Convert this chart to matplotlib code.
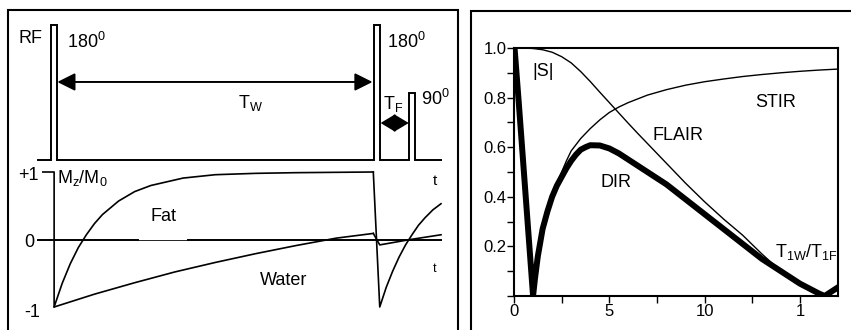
import numpy as np
import matplotlib.pyplot as plt
from matplotlib.patches import Rectangle

plt.rcParams['font.family'] = ['Liberation Sans', 'DejaVu Sans']
plt.rcParams['mathtext.fontset'] = 'custom'
plt.rcParams['mathtext.rm'] = 'Liberation Sans'
plt.rcParams['mathtext.it'] = 'Liberation Sans'

# ---- left panel: pulse sequence (time in ms) ----
pulse_t = [0, 2000, 2220]          # 180, 180, 90
pulse_amp = [1.0, 1.0, 0.5]
pulse_w = 37
t_start, t_end = -100, 2400
TW = 2000
TF = 220

# fat / water longitudinal magnetisation
fat_t1 = [0, 50, 100, 150, 200, 250, 300, 400, 500, 600, 800, 1000, 1250, 1500, 1980]
fat_m1 = [-1.0, -0.65, -0.36, -0.12, 0.07, 0.235, 0.37, 0.57, 0.71, 0.80, 0.91, 0.96, 0.98, 0.99, 1.0]
fat_t2 = [2020, 2060, 2100, 2140, 2180, 2220, 2260, 2300, 2350, 2400]
fat_m2 = [-1.0, -0.71, -0.47, -0.26, -0.08, 0.07, 0.21, 0.32, 0.44, 0.53]
water_t1 = [0, 250, 500, 750, 1000, 1250, 1500, 1750, 1980]
water_m1 = [-1.0, -0.81, -0.64, -0.48, -0.34, -0.21, -0.09, 0.02, 0.09]
water_t2 = [2020, 2210, 2400]
water_m2 = [-0.08, 0.0, 0.07]

# ---- right panel: |S| vs T1W/T1F ----
dir_x = [0, 0.25, 0.5, 0.75, 1.0, 1.1, 1.25, 1.5, 1.75, 2.0, 2.25, 2.5, 2.75, 3.0, 3.25, 3.5,
         3.75, 4.0, 4.5, 5, 5.5, 6, 6.5, 7, 8, 9, 10, 11, 12, 13, 14, 15, 16, 16.3, 17]
dir_y = [1.03, 0.78, 0.52, 0.26, 0.0, 0.07, 0.16, 0.27, 0.34, 0.40, 0.445, 0.48, 0.515, 0.545,
         0.57, 0.59, 0.60, 0.608, 0.607, 0.595, 0.575, 0.55, 0.525, 0.50, 0.45, 0.39, 0.33,
         0.27, 0.21, 0.15, 0.10, 0.05, 0.01, 0.0, 0.035]
stir_x = [2.0, 2.25, 2.5, 2.75, 3.0, 3.5, 4, 4.5, 5, 5.5, 6, 7, 8, 9, 10, 11, 12, 13, 14, 15, 16, 17]
stir_y = [0.40, 0.455, 0.50, 0.545, 0.585, 0.635, 0.675, 0.71, 0.74, 0.762, 0.78, 0.81, 0.832,
          0.85, 0.864, 0.875, 0.885, 0.893, 0.90, 0.906, 0.911, 0.915]
flair_x = [0, 0.5, 1, 1.5, 2, 2.5, 3, 3.5, 4, 4.5, 5, 5.5, 6, 6.5, 7, 7.5, 8, 9, 10, 11, 12, 13, 14]
flair_y = [1.0, 1.0, 0.998, 0.993, 0.983, 0.965, 0.94, 0.905, 0.865, 0.822, 0.78, 0.738, 0.696,
           0.655, 0.615, 0.575, 0.535, 0.455, 0.38, 0.31, 0.245, 0.17, 0.10]
xticks = [0, 5, 10, 15]
xtick_labels = ['0', '5', '10', '1']
yticks = [0, 0.2, 0.4, 0.6, 0.8, 1.0]
ytick_labels = ['', '0.2', '0.4', '0.6', '0.8', '1.0']

W, H = 851, 330
fig = plt.figure(figsize=(W / 100, H / 100), dpi=100)


def px_rect(x0, y0, x1, y1):
    return [x0 / W, 1 - y1 / H, (x1 - x0) / W, (y1 - y0) / H]


def label(s, x, y, ha='left', va='baseline', size=13):
    fig.text(x / W, 1 - y / H, s, ha=ha, va=va, fontsize=size)


# frames
fig.add_artist(Rectangle((8 / W, -0.1), 450 / W, 1.1 - 10.5 / H, transform=fig.transFigure,
                         fill=False, lw=1.5, ec='black'))
fig.add_artist(Rectangle((471 / W, -0.1), 450 / W, 1.1 - 11 / H, transform=fig.transFigure,
                         fill=False, lw=1.5, ec='black'))

# RF line
ax_rf = fig.add_axes(px_rect(38, 25, 441, 160))
ax_rf.set_xlim(t_start, t_end)
ax_rf.set_ylim(0, 1)
ax_rf.axis('off')
rx, ry = [t_start], [0]
for t, a in zip(pulse_t, pulse_amp):
    rx += [t - pulse_w / 2, t - pulse_w / 2, t + pulse_w / 2, t + pulse_w / 2]
    ry += [0, a, a, 0]
rx.append(t_end)
ry.append(0)
ax_rf.plot(rx, ry, color='black', lw=1.4, clip_on=False, solid_joinstyle='miter')

ax_rf.annotate('', xy=(TW - 25, 0.578), xytext=(20, 0.578),
               arrowprops=dict(arrowstyle='<|-|>,head_length=1.08,head_width=0.54',
                               mutation_scale=10, color='black', lw=1.4,
                               shrinkA=0, shrinkB=0))
ax_rf.annotate('', xy=(TW + TF - 20, 0.274), xytext=(TW + 25, 0.274),
               arrowprops=dict(arrowstyle='<|-|>,head_length=0.9,head_width=0.54',
                               mutation_scale=10, color='black', lw=1.4,
                               shrinkA=0, shrinkB=0))

# Mz curves
ax_mz = fig.add_axes(px_rect(38, 172, 441, 307))
ax_mz.set_xlim(t_start, t_end)
ax_mz.set_ylim(-1, 1)
ax_mz.axis('off')
kw = dict(color='black', lw=1.2, clip_on=False)
ax_mz.plot([t_start, 520], [0, 0], color='black', lw=1.4, clip_on=False)
ax_mz.plot([520, 830], [0, 0], color='black', lw=0.6, clip_on=False)
ax_mz.plot([830, t_end], [0, 0], color='black', lw=1.4, clip_on=False)
ax_mz.plot([-70, 0] + fat_t1, [1.0, 1.0] + fat_m1, **kw)
ax_mz.plot([fat_t1[-1]] + fat_t2, [fat_m1[-1]] + fat_m2, **kw)
ax_mz.plot(water_t1, water_m1, **kw)
ax_mz.plot([water_t1[-1]] + water_t2, [water_m1[-1]] + water_m2, **kw)

label('RF', 18, 43)
label('180$^0$', 67, 48)
label('180$^0$', 387, 47.5)
label('90$^0$', 421, 105)
label('T$_\\mathrm{W}$', 238, 108)
label('T$_\\mathrm{F}$', 383, 109)
label('+1', 39, 180, ha='right')
label('M$_\\mathrm{z}$/M$_\\mathrm{0}$', 57, 183)
label('0', 34, 247, ha='right')
label('-1', 40, 317, ha='right')
label('Fat', 150, 221)
label('Water', 260, 285)
label('t', 435, 185, ha='center', size=11)
label('t', 435, 272, ha='center', size=9)

# right panel
ax_r = fig.add_axes(px_rect(514, 48, 838, 296))
ax_r.set_xlim(0, 17)
ax_r.set_ylim(0, 1)
ax_r.plot(flair_x, flair_y, color='black', lw=1.0)
ax_r.plot(stir_x, stir_y, color='black', lw=1.0)
ax_r.plot(dir_x, dir_y, color='black', lw=4.3, solid_joinstyle='round')
for s in ax_r.spines.values():
    s.set_linewidth(1.5)
ax_r.set_xticks(xticks)
ax_r.set_xticklabels(xtick_labels)
ax_r.set_xticks([2.5, 7.5, 12.5], minor=True)
ax_r.set_yticks(yticks)
ax_r.set_yticklabels(ytick_labels)
ax_r.set_yticks([0.1, 0.3, 0.5, 0.7, 0.9], minor=True)
ax_r.tick_params(which='both', direction='out', length=5, width=1, labelsize=12, pad=0.5)

label('|S|', 532, 76)
label('STIR', 755, 107)
label('FLAIR', 653, 140)
label('DIR', 600, 187)
label('T$_\\mathrm{1W}$/T$_\\mathrm{1F}$', 775, 257)

fig.savefig('out.png', dpi=100)
